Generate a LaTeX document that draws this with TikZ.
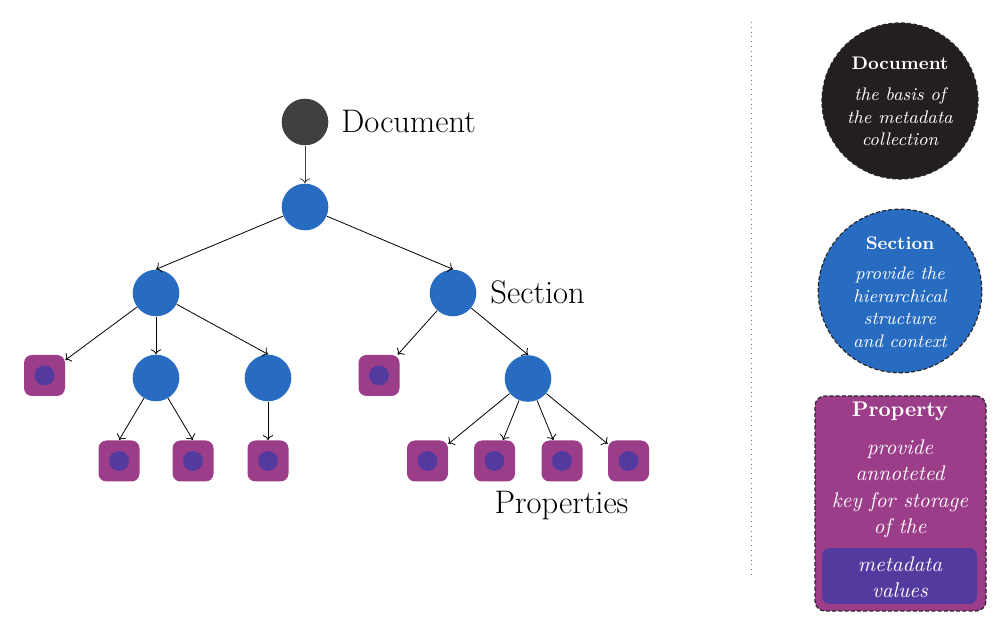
\documentclass[tikz,border=0pt]{standalone}
\usetikzlibrary{arrows.meta}
\definecolor{docgray}{HTML}{404040}
\definecolor{docdark}{HTML}{231F20}
\definecolor{secblue}{HTML}{276CC0}
\definecolor{propmag}{HTML}{9C3D89}
\definecolor{proppur}{HTML}{533A9E}
\tikzset{
  docnode/.style={circle, fill=docgray, minimum size=23.3pt, inner sep=0pt},
  secnode/.style={circle, fill=secblue, minimum size=23.3pt, inner sep=0pt},
  propnode/.style={rectangle, rounded corners=4pt, fill=propmag, minimum size=20.5pt, inner sep=0pt,
    path picture={\fill[proppur] (path picture bounding box.center) circle (5pt);}},
  edge/.style={->, line width=0.4pt, black},
  biglabel/.style={font=\fontsize{16.3}{19}\selectfont, inner sep=0pt},
  legshape/.style={draw=black!85, line width=0.6pt, dash pattern=on 2pt off 1.1pt, inner sep=0pt},
  headA/.style={text=white, font=\fontsize{9.1}{11.3}\selectfont\bfseries, inner sep=0pt, anchor=base},
  bodyA/.style={text=white, font=\fontsize{9.1}{11.3}\selectfont\itshape, inner sep=0pt, anchor=north, align=center},
  headB/.style={text=white, font=\fontsize{10.6}{13.25}\selectfont\bfseries, inner sep=0pt, anchor=base},
  bodyB/.style={text=white, font=\fontsize{10.6}{13.25}\selectfont\itshape, inner sep=0pt, anchor=north, align=center},
}
\begin{document}
\begin{tikzpicture}[x=0.5pt,y=-0.5pt]
\useasboundingbox (0,0) rectangle (997,625);
% tree
\node[docnode] (doc) at (305,122) {};
\node[secnode] (root) at (305,207) {};
\node[secnode] (sL) at (156,293) {};
\node[secnode] (sR) at (453,293) {};
\node[propnode] (pL1) at (44.5,375.5) {};
\node[secnode] (sL2) at (156,378) {};
\node[secnode] (sL3) at (268,378) {};
\node[propnode] (pR1) at (379,375.5) {};
\node[secnode] (sR2) at (528,378.5) {};
\node[propnode] (q1) at (119,461) {};
\node[propnode] (q2) at (193,461) {};
\node[propnode] (q3) at (268,461) {};
\node[propnode] (q4) at (427.5,461) {};
\node[propnode] (q5) at (494.5,461) {};
\node[propnode] (q6) at (562,461) {};
\node[propnode] (q7) at (628.5,461) {};
\draw[edge, draw=docgray] (doc) -- (root.north);
\draw[edge] (root) -- (sL.north);
\draw[edge] (root) -- (sR.north);
\draw[edge] (sL) -- (pL1);
\draw[edge] (sL) -- (sL2.north);
\draw[edge] (sL) -- (sL3.north);
\draw[edge] (sR) -- (pR1);
\draw[edge] (sR) -- (sR2.north);
\draw[edge] (sL2) -- (q1.north);
\draw[edge] (sL2) -- (q2.north);
\draw[edge] (sL3) -- (q3.north);
\draw[edge] (sR2) -- (q4);
\draw[edge] (sR2) -- (q5);
\draw[edge] (sR2) -- (q6);
\draw[edge] (sR2) -- (q7);
% labels
\node[biglabel, anchor=base west] (ldoc) at (341,132.5) {Document};
\node[biglabel, anchor=base west] (lsec) at (490,303.3) {Section};
\node[biglabel, anchor=base] (lprop) at (561.5,513.3) {Properties};
% separator
\coordinate (sepT) at (751,22);
\coordinate (sepB) at (751,578);
\draw[gray, line width=0.4pt, dotted] (sepT) -- (sepB);
% legend: document
\node[legshape, circle, fill=docdark, minimum size=78pt] (legdoc) at (900,101) {};
\node[headA] (legdocH) at (900,70) {Document};
\node[bodyA] (legdocB) at (900,87.4) {the basis of\\the metadata\\collection};
% legend: section
\node[legshape, circle, fill=secblue, minimum size=81.8pt] (legsec) at (900,291) {};
\node[headA] (legsecH) at (900,249.3) {Section};
\node[bodyA] (legsecB) at (900,266.4) {provide the\\hierarchical\\structure\\and context};
% legend: property
\node[legshape, rectangle, rounded corners=5pt, fill=propmag, minimum width=85.5pt, minimum height=107.5pt] (legprop) at (900.5,503.5) {};
\node[rectangle, rounded corners=4pt, fill=proppur, minimum width=77.5pt, minimum height=28pt, inner sep=0pt] (legval) at (899.5,576) {};
\node[headB] (legpropH) at (900,416.7) {Property};
\node[bodyB] (legpropB) at (900,439.3) {provide\\annoteted\\key for storage\\of the};
\node[bodyB] (legvalB) at (900,556) {metadata\\values};
\end{tikzpicture}
\end{document}
